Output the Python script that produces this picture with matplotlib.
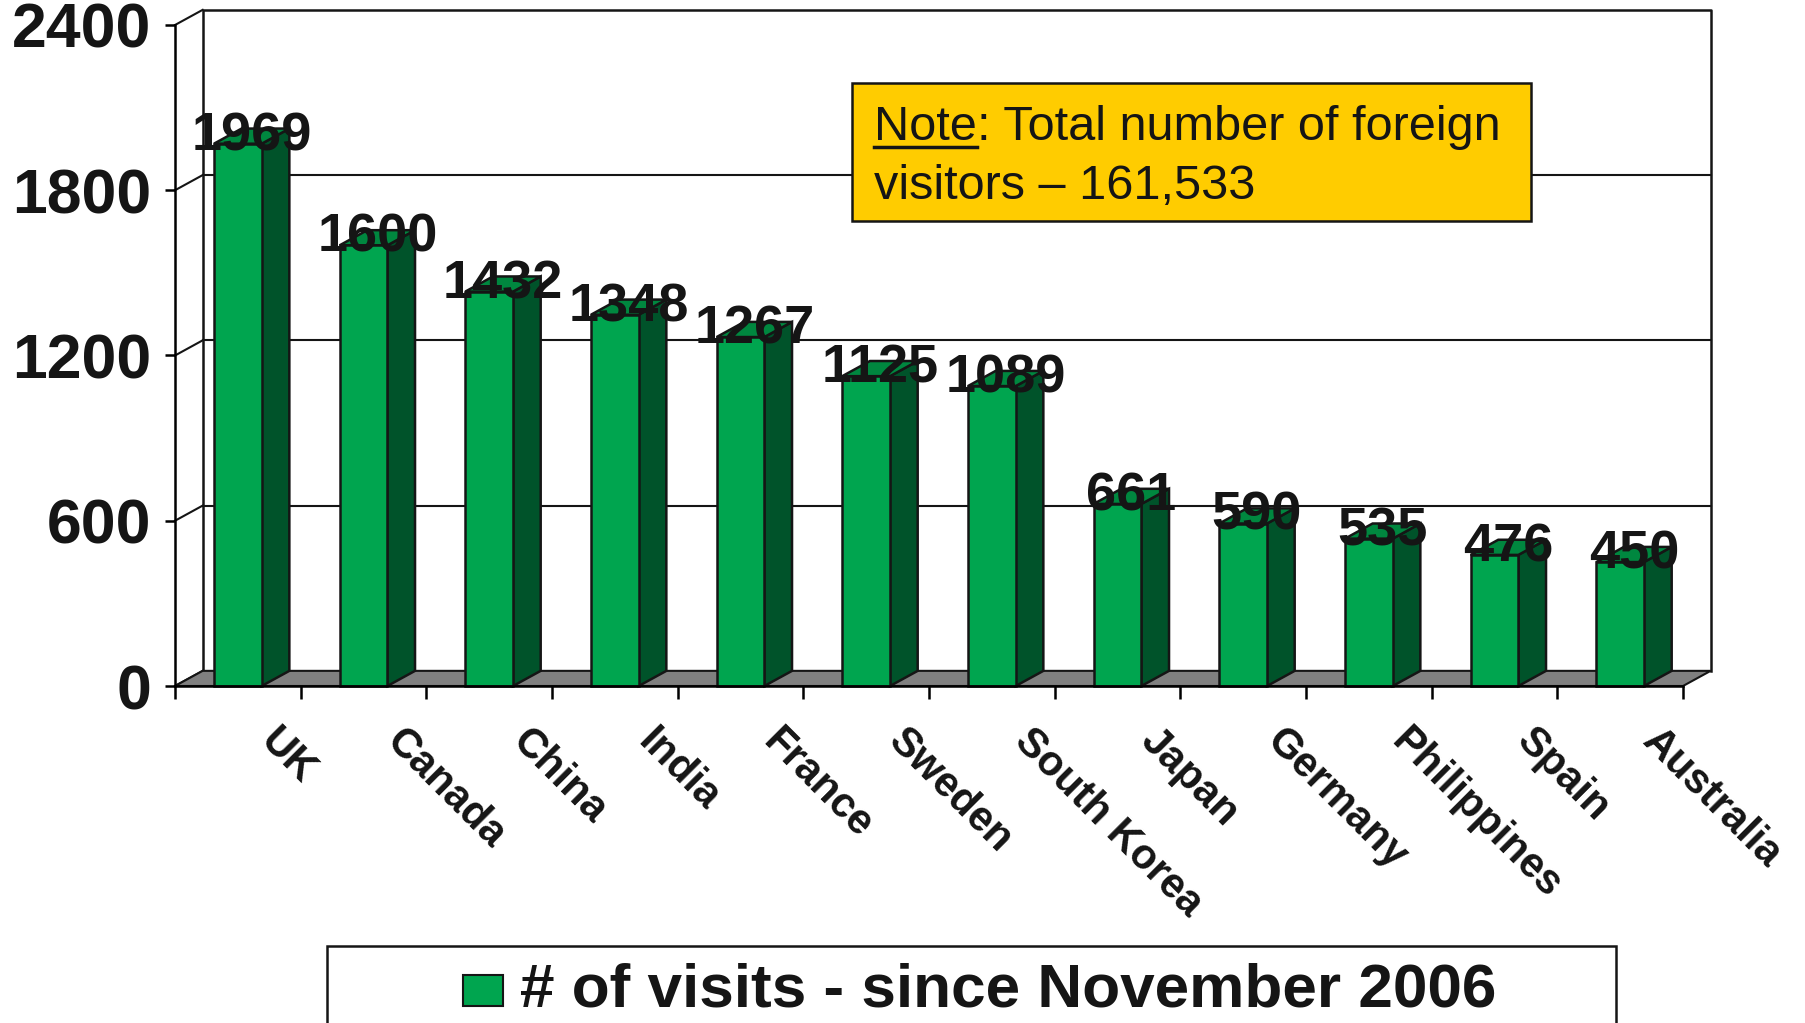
import numpy as np
import matplotlib.pyplot as plt
from matplotlib.patches import Polygon, Rectangle
from matplotlib.lines import Line2D
from matplotlib.font_manager import FontProperties

countries = ['UK', 'Canada', 'China', 'India', 'France', 'Sweden', 'South Korea',
             'Japan', 'Germany', 'Philippines', 'Spain', 'Australia']
visits = [1969, 1600, 1432, 1348, 1267, 1125, 1089, 661, 590, 535, 476, 450]
yticks = [0, 600, 1200, 1800, 2400]
legend_label = '# of visits - since November 2006'
note_word = 'Note'
note_line1 = ': Total number of foreign'
note_line2 = 'visitors \u2013 161,533'

plt.rcParams['font.family'] = ['Liberation Sans', 'DejaVu Sans']

W, H = 1805, 1023
front_c = '#00A54F'
side_c = '#00532A'
top_c = '#00873F'
edge_c = '#151515'
txt_c = '#151515'

# depth of the fake 3d box, in data units
DX = 0.22
DY = 55
bw = 0.38

fig = plt.figure(figsize=(W / 100, H / 100), dpi=100)
ax = fig.add_axes([175 / W, (H - 686) / H, (1683 - 175) / W, (686 - 25) / H])
n = len(countries)
xs = np.arange(n)
ax.set_xlim(-0.5, n - 0.5)
ax.set_ylim(0, 2400)

# back wall + gridlines
for v in yticks[1:-1]:
    ax.plot([-0.5 + DX, n - 0.5 + DX], [v + DY, v + DY], color=edge_c, lw=1.5,
            clip_on=False, zorder=1)
ax.plot([-0.5 + DX, -0.5 + DX, n - 0.5 + DX, n - 0.5 + DX],
        [DY, 2400 + DY, 2400 + DY, DY], color=edge_c, lw=1.8, clip_on=False, zorder=1)
# left side wall lines
for v in yticks:
    ax.plot([-0.5, -0.5 + DX], [v, v + DY], color=edge_c, lw=1.5, clip_on=False, zorder=1)

# floor
floor = Polygon([(-0.5, 0), (n - 0.5, 0), (n - 0.5 + DX, DY), (-0.5 + DX, DY)],
                closed=True, fc='#808080', ec=edge_c, lw=1.5, clip_on=False, zorder=2)
ax.add_patch(floor)

# bars
ax.bar(xs, visits, width=bw, color=front_c, edgecolor=edge_c, linewidth=1.8,
       zorder=4, clip_on=False)
for x, v in zip(xs, visits):
    r = x + bw / 2
    l = x - bw / 2
    side = Polygon([(r, 0), (r + DX, DY), (r + DX, v + DY), (r, v)], closed=True,
                   fc=side_c, ec=edge_c, lw=1.8, clip_on=False, zorder=3)
    top = Polygon([(l, v), (r, v), (r + DX, v + DY), (l + DX, v + DY)], closed=True,
                  fc=top_c, ec=edge_c, lw=1.8, clip_on=False, zorder=3)
    ax.add_patch(side)
    ax.add_patch(top)
    ax.text(x + DX / 2, v + DY / 2, str(v), ha='center', va='center', fontsize=39,
            fontweight='bold', color=txt_c, zorder=6, clip_on=False)

# axes
for s in ['top', 'right']:
    ax.spines[s].set_visible(False)
ax.spines['left'].set_linewidth(1.8)
ax.spines['bottom'].set_linewidth(1.8)
ax.spines['left'].set_zorder(5)
ax.spines['bottom'].set_zorder(5)
ax.set_yticks(yticks)
ax.set_yticklabels([str(t) for t in yticks], fontsize=45, fontweight='bold', color=txt_c)
ax.tick_params(axis='y', length=7, width=1.8, pad=10)
ax.set_xticks(np.arange(-0.5, n, 1))
ax.set_xticklabels([])
ax.tick_params(axis='x', length=9.5, width=1.8)
ax.patch.set_alpha(0)

for x, name in zip(xs, countries):
    ax.annotate(name, xy=(x, 0), xytext=(31, -25), textcoords='offset points',
                rotation=-45, rotation_mode='anchor', ha='left', va='top',
                fontsize=30, fontweight='bold', color=txt_c, annotation_clip=False)

# note box
fig.add_artist(Rectangle((852 / W, (H - 221) / H), (1531 - 852) / W, 138 / H,
                         transform=fig.transFigure, fc='#FFCC00', ec=edge_c, lw=1.8))
fp = FontProperties(family='Liberation Sans', size=35)
renderer = fig.canvas.get_renderer()
wn, hn, dn = renderer.get_text_width_height_descent(note_word, fp, ismath=False)
x0 = 874
fig.text(x0 / W, (H - 140) / H, note_word, fontproperties=fp, color=txt_c, va='baseline')
fig.text((x0 + wn) / W, (H - 140) / H, note_line1, fontproperties=fp, color=txt_c,
         va='baseline')
fig.text(x0 / W, (H - 199) / H, note_line2, fontproperties=fp, color=txt_c, va='baseline')
fig.add_artist(Line2D([x0 / W, (x0 + wn) / W], [(H - 147) / H, (H - 147) / H],
                      transform=fig.transFigure, color=txt_c, lw=2.5))

# legend
fig.add_artist(Rectangle((327 / W, -10 / H), (1616 - 327) / W, (H - 946 + 10) / H,
                         transform=fig.transFigure, fc='white', ec=edge_c, lw=1.8,
                         clip_on=False))
fig.add_artist(Rectangle((463 / W, (H - 1006) / H), 40 / W, 31 / H,
                         transform=fig.transFigure, fc=front_c, ec=edge_c, lw=1.5))
fig.text(520 / W, (H - 991) / H, legend_label, fontsize=44.7, fontweight='bold',
         color=txt_c, va='center', ha='left')

fig.savefig('out.png', dpi=100, facecolor='white')
